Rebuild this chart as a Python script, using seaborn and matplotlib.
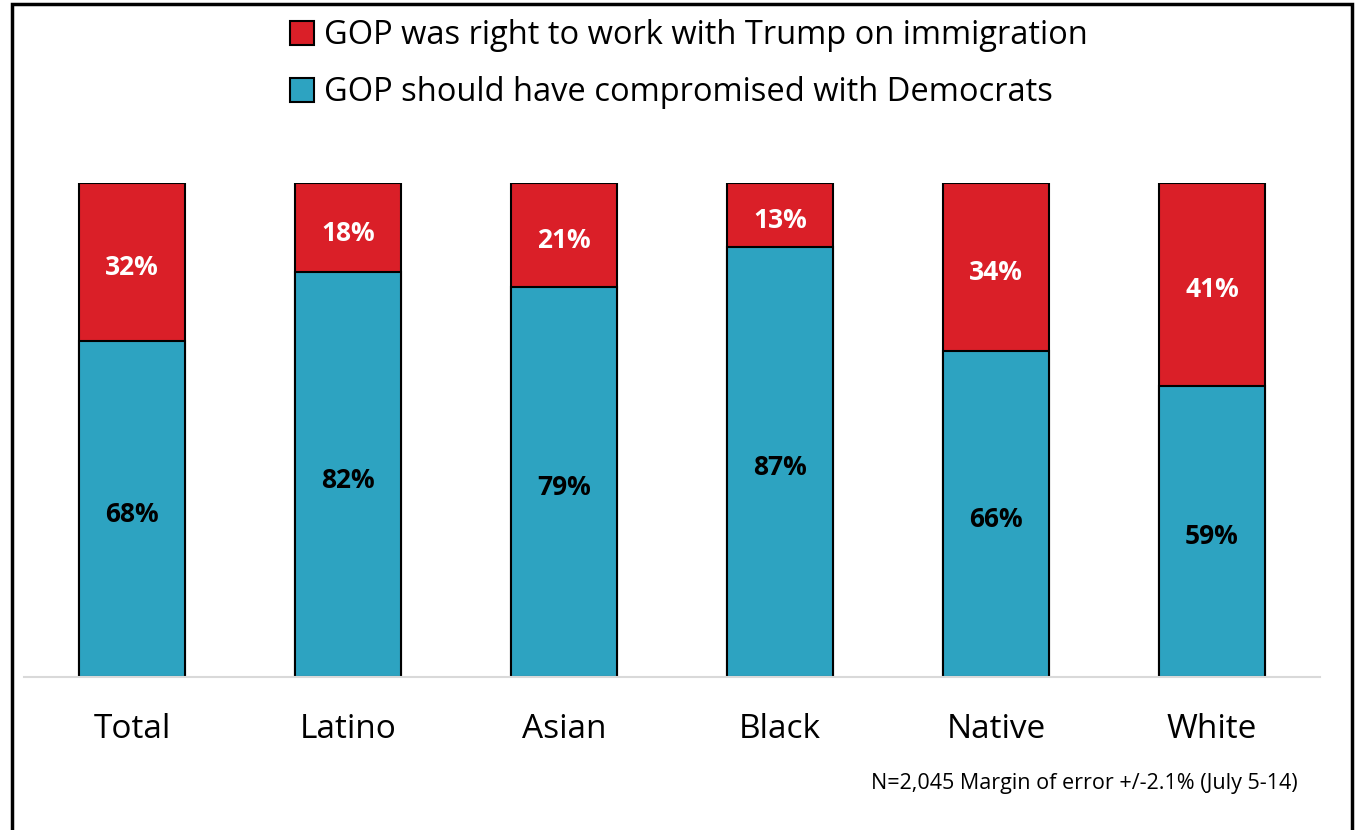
import matplotlib
matplotlib.use("Agg")
import matplotlib.pyplot as plt
import seaborn as sns
import pandas as pd
from matplotlib.patches import Rectangle, Patch

categories = ["Total", "Latino", "Asian", "Black", "Native", "White"]
right_vals = [32, 18, 21, 13, 34, 41]
compromise_vals = [68, 82, 79, 87, 66, 59]
legend_labels = ["GOP was right to work with Trump on immigration",
                 "GOP should have compromised with Democrats"]
note = "N=2,045 Margin of error +/-2.1% (July 5-14)"

RED = "#DA1F28"
TEAL = "#2DA3C1"

sns.set_theme(style="white")
plt.rcParams["font.family"] = ["Open Sans", "DejaVu Sans"]
plt.rcParams["text.color"] = "black"

df = pd.DataFrame({"cat": categories, "right": right_vals, "comp": compromise_vals})
df["total"] = df["right"] + df["comp"]

fig = plt.figure(figsize=(13.59, 8.30), dpi=100)
ax = fig.add_axes([24/1359, 1 - 677/830, (1320 - 24)/1359, (677 - 183)/830])

sns.barplot(data=df, x="cat", y="total", color=RED, width=0.49, ax=ax,
            edgecolor="black", linewidth=1.5, saturation=1)
sns.barplot(data=df, x="cat", y="comp", color=TEAL, width=0.49, ax=ax,
            edgecolor="black", linewidth=1.5, saturation=1)

for i, (r, c) in enumerate(zip(right_vals, compromise_vals)):
    ax.annotate(f"{c}%", (i, c / 2), xytext=(0, -4), textcoords="offset points",
                ha="center", va="center", fontsize=19, fontweight="bold", color="black")
    ax.annotate(f"{r}%", (i, c + r / 2), xytext=(0, -4), textcoords="offset points",
                ha="center", va="center", fontsize=19, fontweight="bold", color="white")

ax.set_xlim(-0.5, 5.5)
ax.set_ylim(0, 100)
ax.set_xlabel("")
ax.set_ylabel("")
ax.set_yticks([])
ax.tick_params(axis="x", labelsize=24, pad=26, length=0, colors="black")
for s in ["top", "right", "left"]:
    ax.spines[s].set_visible(False)
ax.spines["bottom"].set_color("#d9d9d9")
ax.spines["bottom"].set_linewidth(1.5)

handles = [Patch(facecolor=RED, edgecolor="black", linewidth=1.5),
           Patch(facecolor=TEAL, edgecolor="black", linewidth=1.5)]
leg = fig.legend(handles, legend_labels, loc="upper center", bbox_to_anchor=(0.507, 1.012),
                 frameon=False, fontsize=23.5, handlelength=0.75, handleheight=0.75,
                 handletextpad=0.3, labelspacing=0.73)
for t in leg.get_texts():
    t.set_color("black")

fig.text(1298/1359, 1 - 783/830, note, ha="right", va="center", fontsize=15.5)

fig.patches.append(Rectangle((12/1359, -0.05), (1352 - 12)/1359, 1.05 - 4/830,
                             transform=fig.transFigure, fill=False,
                             edgecolor="black", linewidth=2.5))

fig.savefig("out.png", dpi=100, facecolor="white")
